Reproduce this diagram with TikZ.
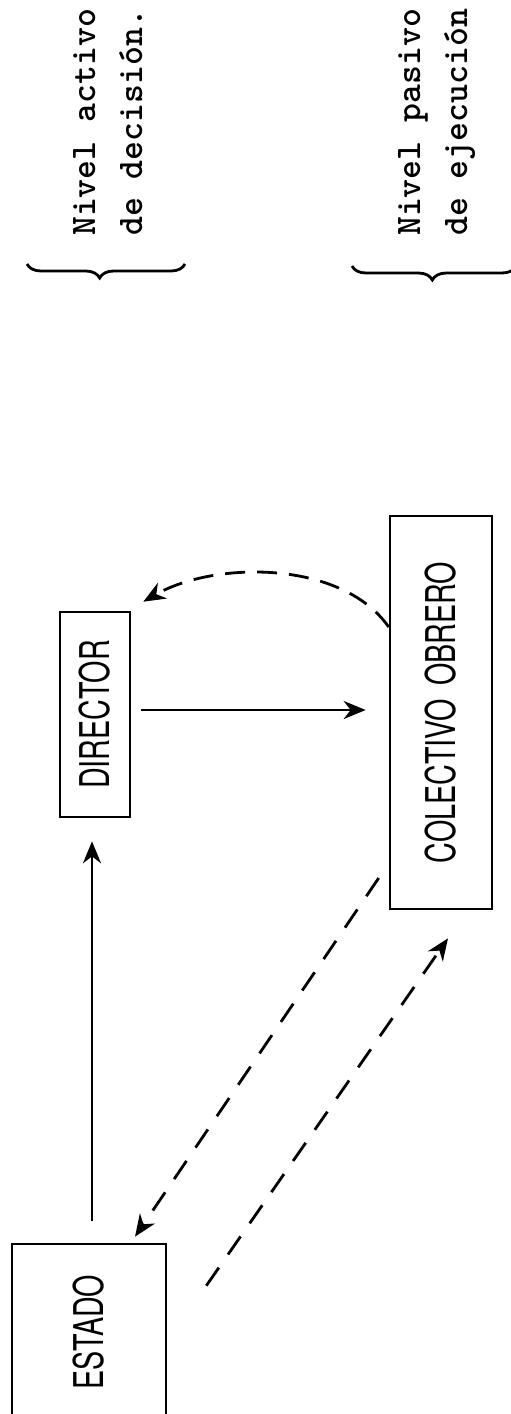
\documentclass[tikz,border=0pt]{standalone}
\usepackage{graphicx}
\usepackage{fontspec}
\newfontfamily\boxfont{TeX Gyre Heros}
\usetikzlibrary{arrows.meta,decorations.pathreplacing,calc}

% condensed label, turned to read upwards, for the boxes
\newcommand{\boxtext}[1]{\rotatebox{90}{\scalebox{0.7}[1]{\boxfont\fontsize{41}{41}\selectfont #1}}}

\begin{document}
\begin{tikzpicture}[x=1pt,y=-1pt,
  box/.style={draw, line width=2.6pt, inner sep=0pt},
  conn/.style={line width=2.8pt, -{Stealth[length=22pt,width=18pt,inset=7pt]}},
  dashconn/.style={conn, dash pattern=on 22pt off 16pt},
  curveconn/.style={conn, dash pattern=on 20pt off 12pt},
  note/.style={rotate=90, anchor=north west, inner sep=0pt, align=left,
    font=\ttfamily\bfseries\fontsize{36}{47}\selectfont},
  bracestyle/.style={decorate, decoration={brace, amplitude=14pt, aspect=#1},
    line width=2.8pt}
]
\useasboundingbox (0,0) rectangle (511,1414);
\clip (0,0) rectangle (511,1414);

% boxes
\node[box, minimum width=154pt, minimum height=176pt] (estado) at (89,1332) {\boxtext{ESTADO}};
\node[box, minimum width=70pt, minimum height=205pt] (director) at (95,714.5) {\boxtext{DIRECTOR}};
\node[box, minimum width=102pt, minimum height=393pt] (colectivo) at (441,712.5) {\boxtext{COLECTIVO\hspace{0.45em}OBRERO}};

% level labels
\node[note] (activo) at (73,236) {Nivel activo\\de decisión.};
\node[note] (pasivo) at (398,236) {Nivel pasivo\\de ejecución};

% braces under the labels
\coordinate (b1r) at (185,264);
\coordinate (b1l) at (27,264);
\coordinate (b2r) at (516,266);
\coordinate (b2l) at (352,266);
\draw[bracestyle=0.54] (b1r) -- (b1l);
\draw[bracestyle=0.51] (b2r) -- (b2l);

% solid connectors
\draw[conn, shorten <=22pt, shorten >=23pt]
  ([xshift=3pt]estado.north) -- ([xshift=3pt]estado.north |- director.south);
\draw[conn, shorten <=10pt, shorten >=23pt]
  ([yshift=4.5pt]director.east) -- ([yshift=4.5pt]director.east -| colectivo.west);

% dashed feedback connectors
\draw[curveconn] ([yshift=85.5pt]colectivo.west)
  to[out=125, in=30, looseness=0.85] ([shift={(12pt,9pt)}]director.north east);
\draw[dashconn] ([shift={(-10pt,-165.5pt)}]colectivo.west)
  -- ([shift={(46pt,6pt)}]estado.north);
\draw[dashconn] ([shift={(39pt,-43pt)}]estado.north east)
  -- ([shift={(7pt,-28pt)}]colectivo.south);
\end{tikzpicture}
\end{document}
